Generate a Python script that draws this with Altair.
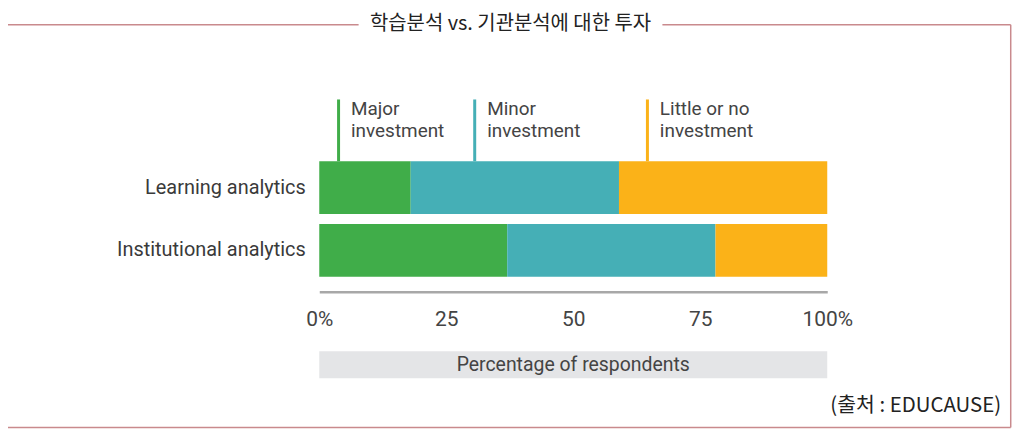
import altair as alt
import pandas as pd

# ---- data ----
categories = ["Learning analytics", "Institutional analytics"]
levels = ["Major investment", "Minor investment", "Little or no investment"]
major = [18, 37]
minor = [41, 41]
little = [41, 22]
level_labels = ["Major\ninvestment", "Minor\ninvestment", "Little or no\ninvestment"]
label_pos = [3.8, 30.6, 64.6]
colors = ["#40ad49", "#45afb6", "#fbb218"]
tick_values = [0, 25, 50, 75, 100]
title_text = "학습분석 vs. 기관분석에 대한 투자"
axis_title = "Percentage of respondents"
source_text = "(출처 : EDUCAUSE)"

rows = []
for i, c in enumerate(categories):
    for j, (lv, vals) in enumerate(zip(levels, [major, minor, little])):
        rows.append({"category": c, "level": lv, "value": vals[i], "ord": j})
bars_df = pd.DataFrame(rows)
ann_df = pd.DataFrame({"level": levels, "label": level_labels, "pos": label_pos})
box_df = pd.DataFrame({"a": [tick_values[0]], "b": [tick_values[-1]]})
one = pd.DataFrame({"k": [0]})

x_scale = alt.Scale(domain=[0, 100], nice=False)
color_scale = alt.Scale(domain=levels, range=colors)
FONT = "Roboto"
KFONT = "Liberation Sans Narrow, Noto Sans CJK KR"
BORDER = "#c98a8d"

bars = alt.Chart(bars_df).mark_bar().encode(
    x=alt.X("value:Q", stack="zero", scale=x_scale,
            axis=alt.Axis(values=tick_values, title=None, grid=False, ticks=False,
                          tickSize=0, labelFlush=False, labelPadding=17,
                          labelFontSize=21, labelFont=FONT, labelColor="#444444",
                          domainColor="#a8a8a8", domainWidth=2.5,
                          labelExpr="datum.value == 0 ? '0%' : (datum.value == 100 ? '100%' : datum.label)")),
    y=alt.Y("category:N", sort=categories,
            scale=alt.Scale(paddingInner=0.16, paddingOuter=0.238),
            axis=alt.Axis(title=None, domain=False, ticks=False, labelPadding=14,
                          labelLimit=400,
                          labelFontSize=20, labelFont=FONT, labelColor="#3a3a3a")),
    color=alt.Color("level:N", scale=color_scale, legend=None),
    order=alt.Order("ord:Q"),
)

ann_rules = alt.Chart(ann_df).mark_rule(strokeWidth=3).encode(
    x=alt.X("pos:Q", scale=x_scale),
    y=alt.value(-47), y2=alt.value(15),
    color=alt.Color("level:N", scale=color_scale, legend=None),
)
ann_text = alt.Chart(ann_df).mark_text(
    align="left", baseline="alphabetic", dx=12.5, lineBreak="\n", lineHeight=22,
    fontSize=19, font=FONT, color="#444444",
).encode(x=alt.X("pos:Q", scale=x_scale), y=alt.value(-31), text="label:N")

box = alt.Chart(box_df).mark_rect(color="#e4e5e7").encode(
    x=alt.X("a:Q", scale=x_scale), x2="b", y=alt.value(205.7), y2=alt.value(233)
)
box_text = alt.Chart(one).mark_text(
    fontSize=19.5, font=FONT, color="#444444", baseline="middle", align="center"
).encode(x=alt.value(255), y=alt.value(219.5), text=alt.value(axis_title))


def seg(x1, x2, y1, y2):
    return alt.Chart(one).mark_rule(color=BORDER, strokeWidth=1.5).encode(
        x=alt.value(x1), x2=alt.value(x2), y=alt.value(y1), y2=alt.value(y2)
    )


L, R, T, B = -314.5, 694.2, -122, 282.3
border = [
    seg(L, L, T, B),
    seg(R, R, T, B),
    seg(L, R, B, B),
    seg(L, 39.5, T, T),
    seg(344.5, R, T, T),
]

title = alt.Chart(one).mark_text(
    fontSize=20, font=KFONT, color="#222222", baseline="middle", align="center"
).encode(x=alt.value(192), y=alt.value(-123), text=alt.value(title_text))

source = alt.Chart(one).mark_text(
    fontSize=20.5, font=KFONT, color="#222222", baseline="alphabetic", align="right"
).encode(x=alt.value(684.5), y=alt.value(266.7), text=alt.value(source_text))

chart = alt.layer(
    *border, box, bars, ann_rules, ann_text, box_text, title, source
).properties(
    width=510, height=146,
    padding={"left": 312.5, "top": 138, "right": 189.5, "bottom": 140},
    autosize=alt.AutoSizeParams(type="none"),
    background="white",
).configure_view(stroke=None)

chart.save("out.html", embed_options={"renderer": "svg", "actions": False})
